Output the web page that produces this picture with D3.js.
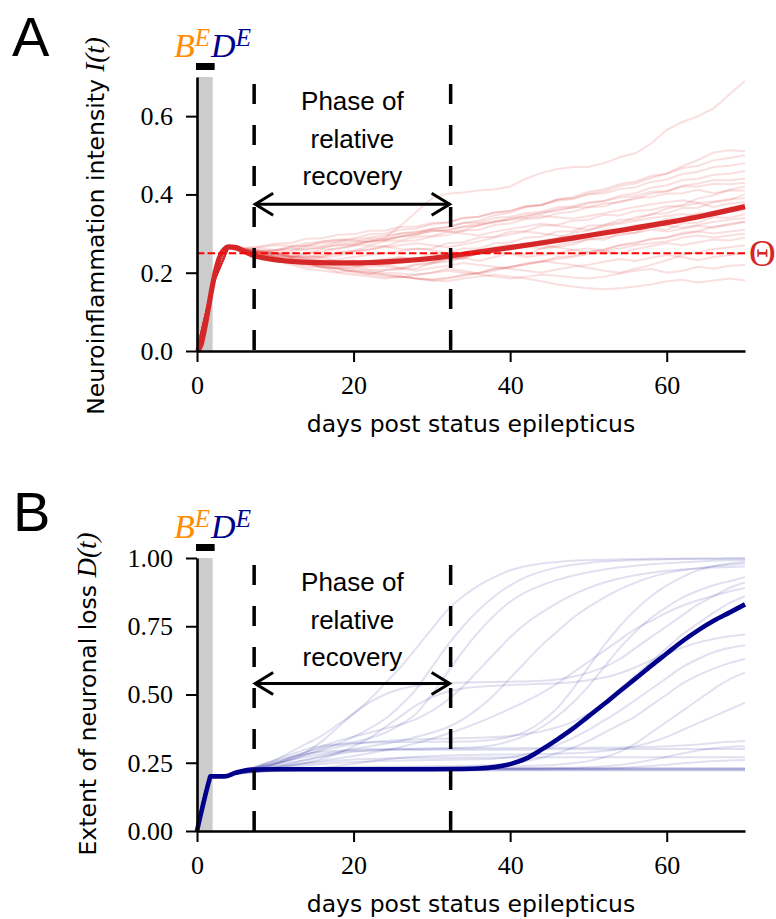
<!DOCTYPE html>
<html><head><meta charset="utf-8">
<script src="https://cdn.jsdelivr.net/npm/d3@7"></script>
<style>body{margin:0;background:#fff}</style></head>
<body><svg id="c" width="776" height="919"></svg>
<script>
// ---------------- DATA ----------------
const days = [0,2,4,6,8,10,12,14,16,18,20,22,24,26,28,30,32,34,36,38,40,42,44,46,48,50,52,54,56,58,60,62,64,66,68,70];
const xTicks = [0,20,40,60];
const yTicksA = [0,0.2,0.4,0.6];
const yTicksB = [0,0.25,0.5,0.75,1.0];
const phaseDays = [7.3, 32.4];      // phase of relative recovery
const bePeriod = [0, 2];            // B^E / D^E window
const thetaValue = 0.25;

// mean inflammation I(t)
const meanIDays = [0,0.5,1,1.5,2,2.5,3,3.5,4,5,6,7,8,10,12,15,20,25,30,35,40,45,50,55,60,65,70];
const meanI = [0,0.015,0.06,0.115,0.17,0.215,0.245,0.26,0.266,0.264,0.255,0.246,0.24,0.233,0.229,0.226,0.225,0.229,0.237,0.25,0.264,0.279,0.295,0.311,0.328,0.347,0.369];

// mean neuronal loss D(t)
const meanDDays = [0,1.6,1.7,3.5,5,7,10,20,30,34,36,38,40,42,44,46,48,50,52,54,56,58,60,62,64,66,68,70];
const meanD = [0,0.19,0.2,0.2,0.214,0.225,0.226,0.226,0.226,0.227,0.229,0.234,0.245,0.265,0.298,0.335,0.375,0.42,0.465,0.512,0.558,0.605,0.65,0.695,0.735,0.77,0.8,0.83];

// sample trajectories I(t) (values at `days`)
const inflammationRuns = [
 [0,.17,.265,.258,.255,.258,.262,.258,.265,.27,.272,.28,.29,.32,.355,.39,.402,.405,.41,.413,.42,.44,.455,.465,.47,.47,.48,.495,.505,.53,.565,.585,.60,.62,.655,.69],
 [0,.17,.265,.25,.24,.232,.22,.21,.205,.2,.195,.19,.185,.19,.185,.18,.178,.185,.19,.195,.19,.185,.178,.17,.165,.16,.158,.16,.165,.17,.178,.182,.175,.18,.185,.18],
 [0,.17,.265,.255,.245,.24,.235,.228,.22,.215,.21,.205,.2,.198,.195,.2,.205,.2,.196,.19,.185,.19,.195,.192,.188,.185,.19,.198,.205,.21,.2,.205,.215,.21,.218,.22],
 [0,.17,.265,.26,.252,.25,.24,.238,.232,.225,.23,.222,.215,.21,.205,.212,.218,.225,.22,.215,.21,.205,.2,.208,.215,.22,.228,.235,.23,.238,.245,.24,.232,.24,.245,.25],
 [0,.17,.265,.252,.242,.235,.228,.22,.215,.21,.2,.195,.19,.188,.195,.2,.21,.205,.198,.205,.215,.222,.23,.225,.22,.212,.205,.2,.21,.22,.232,.245,.252,.26,.265,.27],
 [0,.17,.265,.258,.25,.245,.24,.245,.238,.23,.225,.23,.235,.24,.232,.228,.235,.24,.25,.255,.248,.24,.245,.25,.258,.262,.255,.25,.26,.268,.275,.27,.278,.285,.282,.29],
 [0,.17,.265,.255,.248,.24,.23,.225,.218,.21,.205,.2,.195,.19,.185,.18,.185,.192,.2,.21,.215,.22,.228,.235,.24,.248,.255,.262,.27,.275,.28,.29,.295,.29,.295,.3],
 [0,.17,.265,.26,.255,.25,.242,.236,.23,.234,.24,.245,.25,.255,.262,.258,.25,.245,.252,.26,.268,.275,.27,.265,.258,.252,.26,.27,.278,.285,.29,.298,.305,.3,.305,.31],
 [0,.17,.265,.256,.25,.242,.238,.232,.228,.222,.218,.215,.22,.225,.23,.236,.242,.25,.258,.265,.272,.268,.262,.27,.278,.285,.29,.296,.302,.31,.305,.312,.32,.315,.325,.33],
 [0,.17,.265,.258,.253,.248,.245,.24,.245,.25,.255,.26,.265,.27,.275,.27,.265,.272,.28,.29,.298,.305,.3,.295,.29,.298,.305,.31,.318,.325,.32,.315,.322,.33,.335,.34],
 [0,.17,.265,.25,.24,.228,.226,.215,.214,.202,.205,.196,.206,.212,.21,.225,.228,.238,.23,.24,.25,.246,.262,.266,.272,.286,.284,.3,.302,.316,.31,.326,.328,.342,.34,.35],
 [0,.17,.265,.26,.262,.258,.265,.27,.275,.28,.285,.29,.295,.3,.305,.31,.305,.3,.295,.305,.312,.318,.325,.32,.315,.31,.318,.325,.332,.34,.345,.35,.345,.35,.355,.36],
 [0,.17,.265,.255,.248,.238,.234,.226,.225,.222,.232,.224,.222,.212,.222,.226,.238,.236,.25,.252,.266,.266,.28,.282,.296,.296,.31,.312,.322,.324,.338,.34,.352,.355,.366,.37],
 [0,.17,.265,.258,.252,.243,.242,.233,.24,.243,.254,.258,.268,.26,.26,.262,.275,.278,.29,.292,.305,.306,.32,.322,.333,.335,.348,.346,.358,.36,.37,.37,.378,.368,.377,.38],
 [0,.17,.265,.262,.265,.27,.268,.275,.28,.285,.282,.278,.285,.292,.3,.305,.31,.318,.325,.33,.335,.34,.345,.342,.338,.345,.352,.36,.368,.375,.38,.385,.378,.382,.388,.39],
 [0,.17,.265,.256,.244,.24,.228,.224,.213,.212,.213,.224,.226,.238,.236,.248,.25,.262,.262,.275,.277,.29,.292,.305,.306,.32,.322,.335,.336,.35,.352,.365,.366,.38,.386,.4],
 [0,.17,.265,.26,.257,.25,.25,.25,.26,.26,.27,.27,.28,.283,.292,.294,.304,.308,.322,.328,.34,.343,.354,.358,.367,.368,.377,.38,.392,.393,.402,.403,.412,.403,.41,.41],
 [0,.17,.265,.258,.25,.238,.236,.228,.226,.218,.217,.208,.207,.208,.22,.223,.234,.238,.25,.256,.267,.27,.282,.288,.302,.308,.322,.328,.342,.348,.364,.373,.39,.398,.412,.42],
 [0,.17,.265,.262,.257,.256,.258,.267,.268,.277,.278,.287,.288,.3,.303,.312,.316,.327,.328,.34,.343,.352,.356,.367,.37,.38,.383,.392,.396,.407,.408,.42,.42,.427,.426,.43],
 [0,.17,.265,.257,.251,.249,.24,.24,.24,.252,.256,.267,.268,.28,.283,.292,.296,.307,.31,.322,.326,.337,.34,.352,.356,.367,.37,.382,.388,.402,.408,.422,.428,.437,.436,.44],
 [0,.17,.265,.26,.254,.251,.254,.262,.263,.272,.273,.282,.283,.292,.296,.307,.308,.317,.32,.332,.336,.347,.35,.362,.366,.377,.383,.397,.403,.417,.423,.437,.44,.45,.453,.46],
 [0,.17,.265,.263,.267,.274,.276,.287,.288,.297,.298,.307,.308,.317,.318,.327,.328,.34,.343,.354,.358,.37,.373,.384,.388,.4,.403,.414,.418,.432,.438,.452,.458,.47,.473,.48],
 [0,.17,.265,.258,.253,.256,.267,.268,.28,.283,.288,.298,.3,.31,.313,.324,.328,.34,.343,.354,.358,.37,.373,.387,.393,.407,.413,.427,.433,.447,.453,.467,.473,.487,.493,.5],
 [0,.17,.265,.256,.249,.246,.24,.25,.253,.264,.268,.28,.283,.294,.298,.312,.316,.327,.333,.347,.353,.367,.373,.387,.39,.402,.408,.422,.428,.442,.453,.472,.488,.507,.513,.51],
 [0,.17,.265,.255,.243,.237,.227,.223,.215,.211,.204,.201,.195,.191,.185,.183,.187,.195,.199,.21,.213,.224,.228,.24,.243,.254,.258,.27,.274,.287,.29,.302,.306,.318,.322,.33]
];

// sample trajectories D(t) (values at `days`)
const lossRuns = [
 [0,.2,.205,.22,.24,.26,.29,.32,.35,.39,.43,.48,.54,.6,.67,.74,.81,.86,.9,.93,.955,.97,.98,.985,.99,.992,.994,.995,.996,.997,.997,.998,.998,.998,.999,.999],
 [0,.2,.205,.218,.232,.245,.26,.28,.3,.32,.345,.375,.41,.46,.52,.6,.68,.75,.81,.86,.9,.93,.95,.965,.975,.982,.987,.99,.992,.994,.995,.996,.997,.997,.998,.998],
 [0,.2,.205,.22,.235,.25,.27,.29,.305,.315,.325,.34,.36,.39,.43,.5,.58,.66,.73,.79,.84,.875,.9,.92,.935,.948,.958,.966,.972,.977,.981,.984,.987,.99,.992,.993],
 [0,.2,.205,.218,.23,.245,.265,.29,.33,.38,.43,.47,.5,.52,.532,.538,.542,.544,.545,.546,.547,.548,.55,.555,.565,.58,.6,.63,.67,.71,.75,.79,.83,.86,.89,.91],
 [0,.2,.205,.216,.225,.232,.24,.25,.265,.285,.31,.34,.38,.42,.46,.49,.51,.522,.528,.532,.535,.537,.539,.541,.545,.552,.562,.578,.6,.625,.65,.672,.69,.703,.713,.72],
 [0,.2,.205,.22,.235,.25,.27,.29,.31,.33,.345,.36,.375,.39,.41,.44,.48,.53,.59,.65,.71,.76,.8,.835,.865,.89,.91,.925,.937,.946,.953,.958,.962,.965,.967,.969],
 [0,.2,.205,.218,.228,.238,.25,.262,.275,.288,.3,.31,.32,.33,.345,.36,.38,.41,.45,.5,.56,.62,.68,.73,.78,.82,.855,.885,.91,.93,.945,.955,.963,.97,.975,.98],
 [0,.2,.205,.216,.226,.234,.242,.25,.258,.266,.275,.285,.296,.308,.322,.338,.356,.376,.398,.422,.448,.475,.505,.54,.58,.62,.66,.7,.74,.77,.8,.825,.845,.862,.877,.89],
 [0,.2,.205,.218,.23,.245,.262,.28,.295,.308,.318,.325,.33,.333,.335,.337,.338,.34,.342,.344,.348,.355,.365,.38,.4,.43,.47,.52,.57,.62,.67,.72,.76,.8,.835,.86],
 [0,.2,.205,.22,.24,.26,.28,.3,.312,.318,.322,.324,.325,.326,.326,.327,.327,.328,.33,.335,.345,.365,.4,.45,.52,.6,.68,.75,.81,.86,.9,.93,.955,.97,.98,.985],
 [0,.2,.205,.216,.226,.236,.248,.26,.272,.282,.29,.295,.298,.3,.301,.302,.303,.305,.308,.315,.33,.35,.38,.42,.47,.53,.6,.67,.73,.78,.82,.855,.88,.9,.915,.93],
 [0,.2,.205,.215,.222,.228,.234,.24,.245,.25,.253,.255,.257,.258,.259,.26,.261,.262,.263,.265,.27,.28,.295,.315,.34,.37,.405,.44,.48,.52,.56,.6,.63,.655,.67,.68],
 [0,.2,.205,.213,.219,.224,.228,.23,.232,.233,.234,.235,.235,.236,.236,.237,.237,.238,.24,.243,.248,.256,.268,.285,.305,.33,.36,.39,.42,.46,.5,.54,.57,.595,.615,.63],
 [0,.2,.205,.214,.22,.224,.227,.229,.23,.231,.232,.232,.233,.233,.234,.234,.235,.235,.236,.236,.237,.238,.24,.243,.248,.256,.27,.29,.32,.36,.4,.44,.48,.52,.555,.58],
 [0,.2,.205,.213,.218,.222,.225,.228,.232,.238,.246,.255,.262,.268,.272,.275,.277,.278,.279,.28,.28,.281,.282,.283,.285,.288,.293,.3,.31,.325,.345,.37,.395,.42,.445,.47],
 [0,.2,.205,.22,.238,.255,.27,.282,.29,.295,.298,.3,.3,.301,.301,.302,.302,.302,.303,.303,.303,.304,.304,.305,.305,.305,.306,.306,.307,.308,.31,.313,.317,.322,.327,.33],
 [0,.2,.205,.213,.218,.221,.223,.224,.225,.225,.226,.226,.226,.227,.227,.227,.228,.228,.228,.229,.229,.23,.23,.231,.232,.234,.237,.242,.25,.26,.272,.284,.295,.303,.308,.31],
 [0,.2,.205,.218,.232,.246,.26,.272,.282,.289,.293,.295,.296,.297,.297,.297,.298,.298,.298,.298,.298,.298,.299,.299,.299,.299,.299,.3,.3,.3,.3,.3,.3,.3,.3,.3],
 [0,.2,.205,.215,.224,.232,.24,.247,.253,.258,.262,.264,.266,.267,.268,.268,.268,.269,.269,.269,.269,.269,.27,.27,.27,.27,.27,.27,.27,.27,.27,.27,.27,.27,.27,.27],
 [0,.2,.205,.213,.218,.221,.222,.223,.224,.224,.224,.225,.225,.225,.225,.225,.225,.225,.225,.226,.226,.226,.226,.227,.227,.228,.229,.231,.234,.238,.243,.248,.252,.256,.258,.26],
 [0,.2,.204,.212,.217,.22,.221,.222,.222,.222,.222,.222,.222,.222,.222,.222,.222,.222,.222,.222,.222,.222,.222,.222,.222,.222,.222,.222,.222,.222,.222,.222,.222,.222,.222,.222],
 [0,.2,.205,.214,.22,.223,.225,.226,.226,.226,.226,.226,.226,.226,.226,.226,.226,.226,.226,.226,.226,.226,.226,.226,.226,.226,.226,.226,.226,.226,.226,.226,.226,.226,.226,.226],
 [0,.2,.205,.215,.222,.226,.228,.229,.23,.23,.231,.231,.231,.231,.231,.231,.231,.231,.231,.231,.231,.231,.231,.231,.231,.231,.231,.231,.231,.231,.231,.231,.231,.231,.231,.231],
 [0,.2,.204,.213,.219,.222,.223,.224,.224,.224,.224,.224,.224,.224,.224,.224,.224,.224,.224,.224,.224,.224,.224,.224,.224,.224,.224,.224,.224,.224,.224,.224,.224,.224,.224,.224],
 [0,.2,.205,.215,.221,.225,.227,.228,.228,.228,.228,.228,.228,.228,.228,.228,.228,.228,.228,.228,.228,.228,.228,.228,.228,.228,.228,.228,.228,.228,.228,.228,.228,.228,.228,.228]
];

// ---------------- DRAW ----------------
const svg = d3.select('#c');
const SANS = '"DejaVu Sans", sans-serif';
const SERIF = '"Liberation Serif", "DejaVu Serif", serif';
const TXT = '"Liberation Sans", Arial, sans-serif';
const RED = '#d62728', NAVY = '#00008b', ORANGE = '#ff8c00';

function drawPanel(o) {
  const g = svg.append('g');
  const x = d3.scaleLinear([0,70],[197,745]);
  const y = d3.scaleLinear(o.yDomain, o.yRange);
  const top = o.yRange[1], bottom = o.yRange[0];

  // grey window
  g.append('rect').attr('x', x(bePeriod[0])).attr('y', top)
    .attr('width', x(bePeriod[1]) - x(bePeriod[0])).attr('height', bottom - top)
    .attr('fill', '#cccccc');
  // black bar above
  g.append('rect').attr('x', x(bePeriod[0]) - 1).attr('y', top - 14)
    .attr('width', x(bePeriod[1]) - x(bePeriod[0]) + 3).attr('height', 7).attr('fill', '#000');

  // thin runs
  const thin = d3.line().x((d,i) => x(days[i])).y(d => y(d)).curve(o.thinCurve);
  g.append('g').selectAll('path').data(o.runs).join('path')
    .attr('d', thin).attr('fill', 'none').attr('stroke', o.color)
    .attr('stroke-opacity', o.thinOpacity).attr('stroke-width', 2);

  // mean
  const ml = d3.line().x((d,i) => x(o.meanDays[i])).y(d => y(d)).curve(d3.curveMonotoneX);
  g.append('path').attr('d', ml(o.mean)).attr('fill', 'none')
    .attr('stroke', o.color).attr('stroke-width', o.meanWidth).attr('stroke-linejoin','round');

  if (o.theta) {
    g.append('line').attr('x1', x(0)).attr('x2', x(70))
      .attr('y1', y(thetaValue)).attr('y2', y(thetaValue))
      .attr('stroke', '#ff0000').attr('stroke-width', 2).attr('stroke-dasharray', '7.4,3.2');
    g.append('text').attr('x', 749).attr('y', y(thetaValue) + 13)
      .attr('font-family', SERIF).attr('font-size', 37).attr('fill', RED).text('Θ');
  }

  // phase dashed lines
  phaseDays.forEach(d => {
    g.append('line').attr('x1', x(d)).attr('x2', x(d)).attr('y1', top + 7).attr('y2', bottom)
      .attr('stroke', '#000').attr('stroke-width', 3.5).attr('stroke-dasharray', '20,21');
  });
  // arrow
  const ay = y(o.arrowValue), x1 = x(phaseDays[0]) + 1, x2 = x(phaseDays[1]) - 1;
  g.append('line').attr('x1', x1).attr('x2', x2).attr('y1', ay).attr('y2', ay)
    .attr('stroke', '#000').attr('stroke-width', 3);
  g.append('path').attr('d', `M${x1+18},${ay-11}L${x1},${ay}L${x1+18},${ay+11}`)
    .attr('fill','none').attr('stroke','#000').attr('stroke-width',3);
  g.append('path').attr('d', `M${x2-18},${ay-11}L${x2},${ay}L${x2-18},${ay+11}`)
    .attr('fill','none').attr('stroke','#000').attr('stroke-width',3);
  const cx = (x(phaseDays[0]) + x(phaseDays[1])) / 2;
  ['Phase of','relative','recovery'].forEach((t,i) => {
    g.append('text').attr('x', cx).attr('y', top + 33 + i*37.5).attr('text-anchor','middle')
      .attr('font-family', TXT).attr('font-size', 26).attr('fill','#000').text(t);
  });

  // B^E D^E
  const lab = g.append('text').attr('x', 174).attr('y', top - 20)
    .attr('font-family', SERIF).attr('font-style','italic').attr('font-size', 34);
  lab.append('tspan').attr('fill', ORANGE).text('B');
  lab.append('tspan').attr('fill', ORANGE).attr('font-size', 25).attr('dy', -11).text('E');
  lab.append('tspan').attr('fill', NAVY).attr('dy', 11).attr('dx', 1).text('D');
  lab.append('tspan').attr('fill', NAVY).attr('font-size', 25).attr('dy', -11).text('E');

  // axes
  const ax = g.append('g').attr('transform', `translate(0,${bottom})`)
    .call(d3.axisBottom(x).tickValues(xTicks).tickSize(11).tickSizeOuter(0).tickPadding(14).tickFormat(d3.format('d')));
  const ayx = g.append('g').attr('transform', `translate(${x(0)},0)`)
    .call(d3.axisLeft(y).tickValues(o.yTicks).tickSize(11).tickSizeOuter(0).tickPadding(13).tickFormat(d3.format(o.fmt)));
  [ax, ayx].forEach(a => {
    a.select('.domain').attr('stroke-width', 2.6).attr('stroke', '#000');
    a.selectAll('.tick line').attr('stroke-width', 2).attr('stroke','#000');
    a.selectAll('.tick text').attr('font-family', SERIF).attr('font-size', 26).attr('fill','#000');
  });

  // x label
  g.append('text').attr('x', 471).attr('y', bottom + 81).attr('text-anchor','middle')
    .attr('font-family', SANS).attr('font-size', 23.5).attr('fill','#000').text('days post status epilepticus');
  // y label
  const yl = g.append('text').attr('transform', `translate(${o.ylabX},${o.ylabY}) rotate(-90)`)
    .attr('text-anchor','middle').attr('font-family', SANS).attr('font-size', 23.5).attr('fill','#000');
  yl.append('tspan').text(o.ylabel + ' ');
  yl.append('tspan').attr('font-family', SERIF).attr('font-style','italic').attr('font-size', 27).text(o.ylabMath);

  // panel letter
  g.append('text').attr('x', o.letterX).attr('y', o.letterY).attr('font-family', TXT)
    .attr('font-size', 56).attr('fill','#000').text(o.letter);
}

drawPanel({
  yDomain: [0, 0.7], yRange: [351, 77], yTicks: yTicksA, fmt: '.1f',
  runs: inflammationRuns, thinCurve: d3.curveLinear, color: RED, thinOpacity: 0.15,
  meanDays: meanIDays, mean: meanI, meanWidth: 5.2,
  theta: true, arrowValue: 0.375,
  ylabel: 'Neuroinflammation intensity', ylabMath: 'I(t)', ylabX: 104, ylabY: 226,
  letter: 'A', letterX: 12, letterY: 56
});
drawPanel({
  yDomain: [0, 1], yRange: [831, 558], yTicks: yTicksB, fmt: '.2f',
  runs: lossRuns, thinCurve: d3.curveMonotoneX, color: NAVY, thinOpacity: 0.12,
  meanDays: meanDDays, mean: meanD, meanWidth: 4.6,
  theta: false, arrowValue: 0.54,
  ylabel: 'Extent of neuronal loss', ylabMath: 'D(t)', ylabX: 96, ylabY: 694,
  letter: 'B', letterX: 13, letterY: 531
});
</script></body></html>
